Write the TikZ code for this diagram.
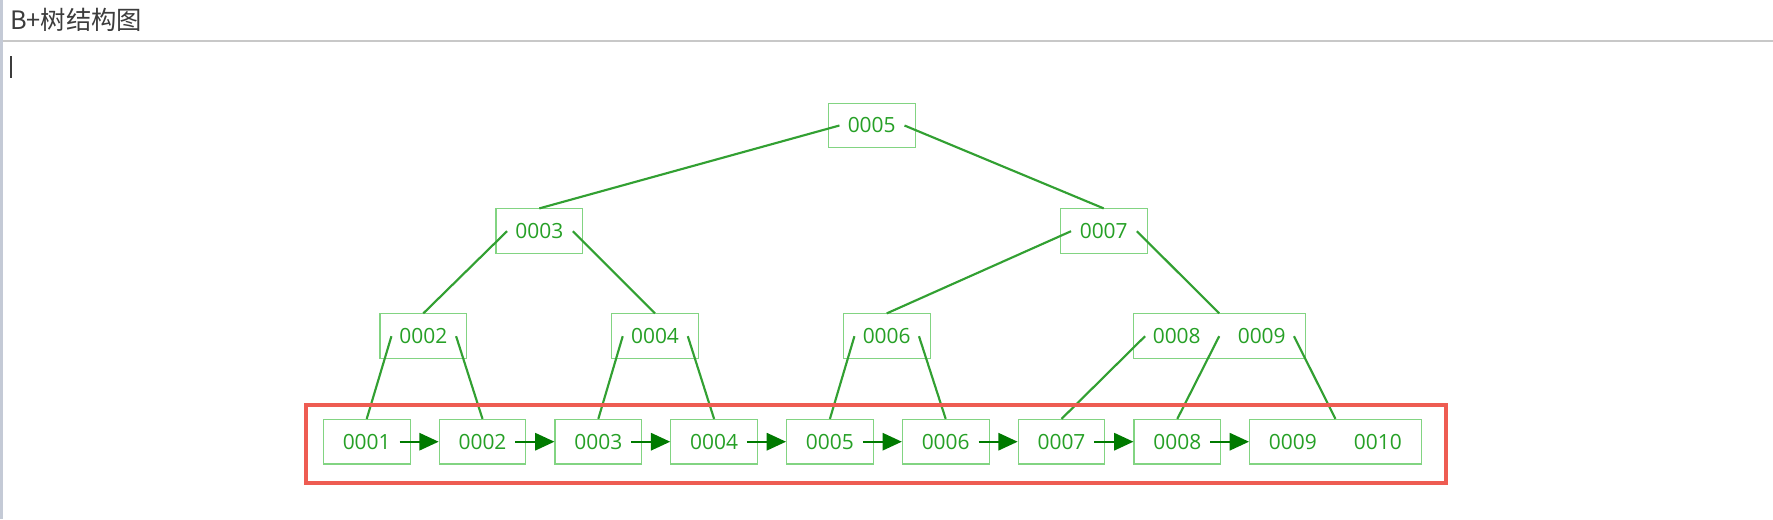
\documentclass[tikz,border=0pt]{standalone}
\usepackage{fontspec}
\setmainfont{Open Sans}
\newfontfamily\cjk{Noto Sans CJK SC}
\usetikzlibrary{arrows.meta}
\definecolor{boxg}{RGB}{130,212,130}
\definecolor{txtg}{RGB}{38,160,38}
\definecolor{lineg}{RGB}{50,160,50}
\definecolor{arrg}{RGB}{0,122,0}
\definecolor{redb}{RGB}{238,92,82}
\definecolor{headl}{RGB}{200,200,200}
\definecolor{leftbar}{RGB}{196,202,214}
\definecolor{titlec}{RGB}{60,60,60}
\begin{document}
\begin{tikzpicture}[x=0.75pt,y=-0.75pt,
  key/.style={draw=boxg, line width=0.8pt, minimum width=65pt, minimum height=33.4pt,
    inner sep=0pt, text=txtg, font=\fontsize{15.7}{18}\selectfont},
  wkey/.style={key, minimum width=128.8pt},
  tl/.style={draw=lineg, line width=1.6pt},
  arr/.style={draw=arrg, line width=1.6pt, -{Triangle[length=14.5pt,width=13pt]}, shorten <=-8.25pt}
]
\useasboundingbox (0,0) rectangle (1773,519);
\fill[white] (0,0) rectangle (1773,519);
% header
\fill[leftbar] (0,0) rectangle (2.7,519);
\node[anchor=base west, inner sep=0pt, text=titlec, font=\cjk\fontsize{19}{22}\selectfont] (title) at (10,29.3) {B+树结构图};
\draw[headl, line width=1.5pt] (3,40.7) -- (1773,40.7);
\fill[titlec] (10,56) rectangle (12,78.3);
% tree nodes
\node[key] (r) at (871.7,125.5) {0005};
\node[key] (a) at (539.3,231.2) {0003};
\node[key] (b) at (1103.7,231.2) {0007};
\node[key] (c1) at (423.3,336.2) {0002};
\node[key] (c2) at (655,336.2) {0004};
\node[key] (c3) at (886.7,336.2) {0006};
\node[wkey] (c4) at (1219.2,336.2) {\makebox[63.75pt]{0008}\makebox[63.75pt]{0009}};
% leaves
\node[key] (l1) at (366.7,441.7) {0001};
\node[key] (l2) at (482.5,441.7) {0002};
\node[key] (l3) at (598.3,441.7) {0003};
\node[key] (l4) at (714.1,441.7) {0004};
\node[key] (l5) at (829.9,441.7) {0005};
\node[key] (l6) at (945.7,441.7) {0006};
\node[key] (l7) at (1061.5,441.7) {0007};
\node[key] (l8) at (1177.3,441.7) {0008};
\node[wkey] (l9) at (1335.4,441.7) {\makebox[63.75pt]{0009}\makebox[63.75pt]{0010}};
% tree lines
\draw[tl] ([xshift=8.7pt]r.west) -- (a.north);
\draw[tl] ([xshift=-8.3pt]r.east) -- (b.north);
\draw[tl] ([xshift=8.7pt]a.west) -- (c1.north);
\draw[tl] ([xshift=-7.7pt]a.east) -- (c2.north);
\draw[tl] ([xshift=8.4pt]b.west) -- (c3.north);
\draw[tl] ([xshift=-8pt]b.east) -- (c4.north);
\draw[tl] ([xshift=9pt]c1.west) -- (l1.north);
\draw[tl] ([xshift=-8.3pt]c1.east) -- (l2.north);
\draw[tl] ([xshift=8.7pt]c2.west) -- (l3.north);
\draw[tl] ([xshift=-8.3pt]c2.east) -- (l4.north);
\draw[tl] ([xshift=8.7pt]c3.west) -- (l5.north);
\draw[tl] ([xshift=-8.7pt]c3.east) -- (l6.north);
\draw[tl] ([xshift=9.2pt]c4.west) -- (l7.north);
\draw[tl] (c4.center) -- (l8.north);
\draw[tl] ([xshift=-8.7pt]c4.east) -- (l9.north);
% leaf chain
\draw[arr] (l1.east) -- (l2.west);
\draw[arr] (l2.east) -- (l3.west);
\draw[arr] (l3.east) -- (l4.west);
\draw[arr] (l4.east) -- (l5.west);
\draw[arr] (l5.east) -- (l6.west);
\draw[arr] (l6.east) -- (l7.west);
\draw[arr] (l7.east) -- (l8.west);
\draw[arr] (l8.east) -- (l9.west);
% highlight
\draw[redb, line width=3pt] (306,405) rectangle (1446,482.5);
\end{tikzpicture}
\end{document}
